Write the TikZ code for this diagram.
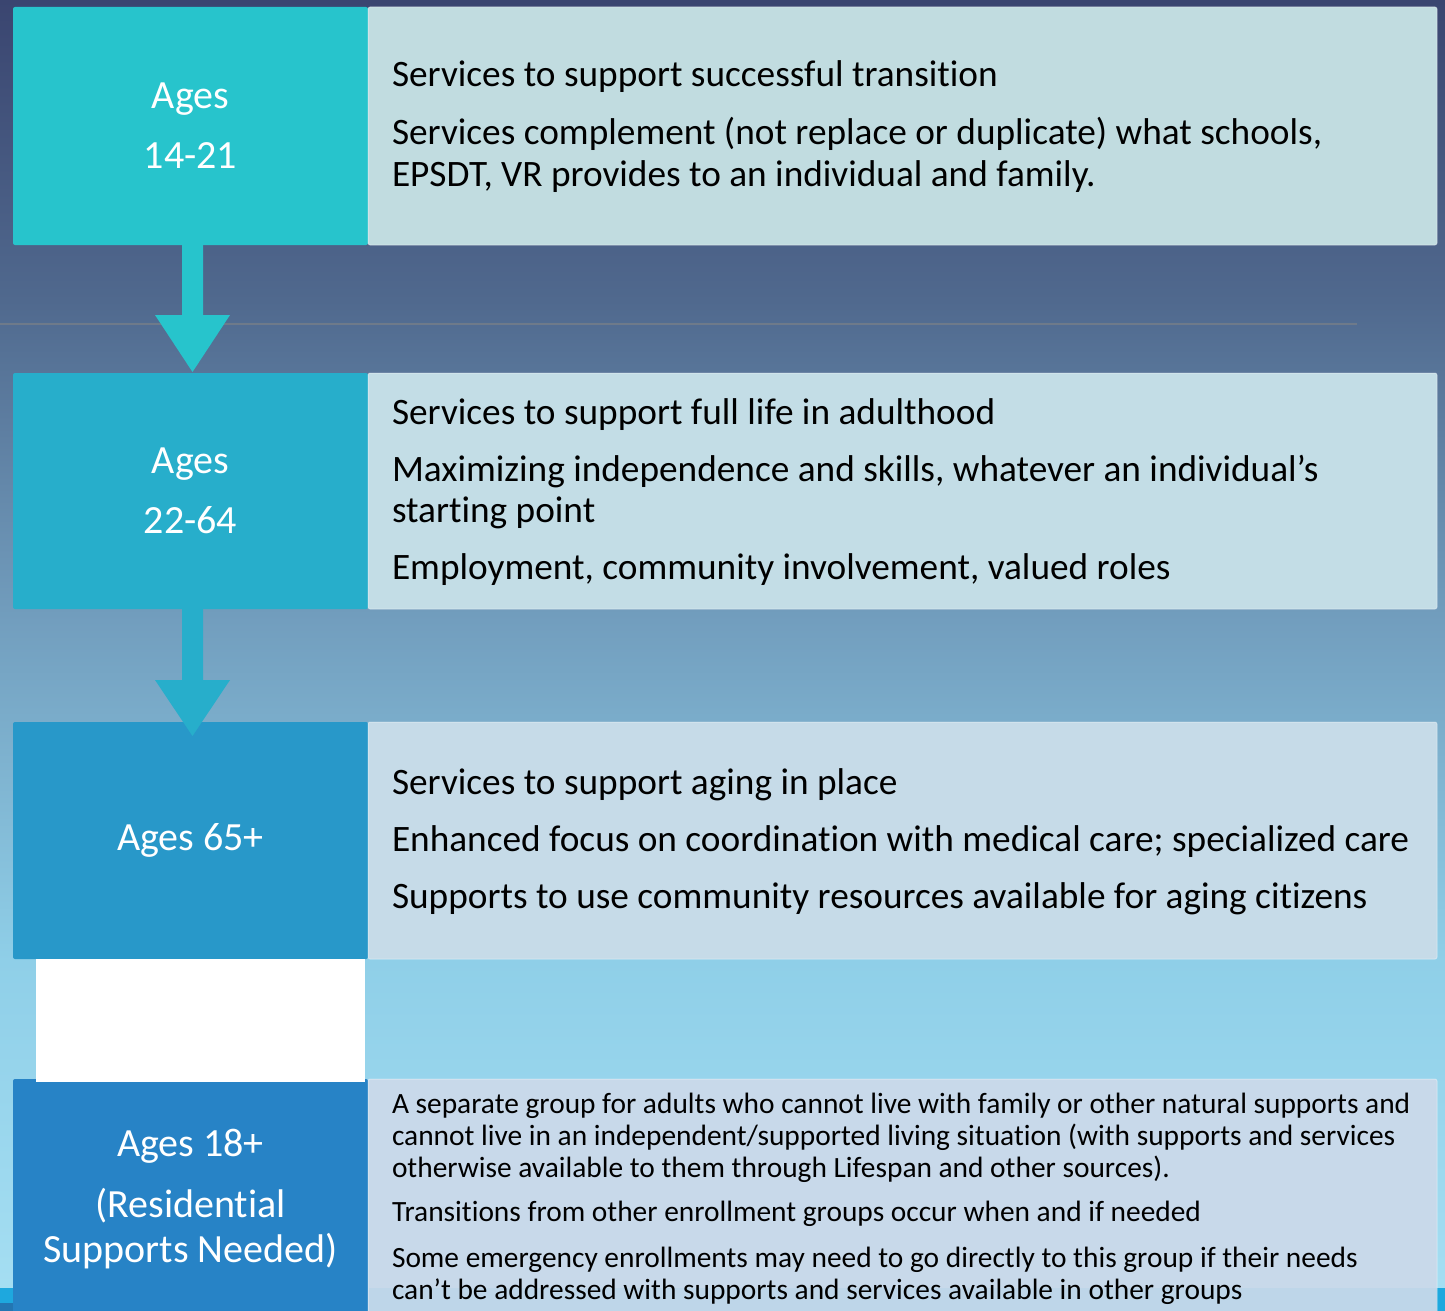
\documentclass[tikz,border=0pt]{standalone}
\usepackage{fontspec}
\setmainfont{Carlito}[Ligatures={NoCommon,NoRare}]
\usetikzlibrary{calc}
\definecolor{bgA}{HTML}{3A4570}
\definecolor{bgB}{HTML}{50698E}
\definecolor{bgC}{HTML}{729EBE}
\definecolor{bgD}{HTML}{8FCFE8}
\definecolor{bgE}{HTML}{A6DFF3}
\definecolor{lone}{HTML}{27C4CC}
\definecolor{ltwo}{HTML}{27AECB}
\definecolor{lthree}{HTML}{2898C9}
\definecolor{lfour}{HTML}{2783C6}
\definecolor{rone}{HTML}{C1DCE0}
\definecolor{rtwo}{HTML}{C3DDE6}
\definecolor{rthree}{HTML}{C6DBE8}
\definecolor{rfour}{HTML}{C8D9EA}
\definecolor{rulec}{HTML}{6E7A8A}
\definecolor{footc}{HTML}{1EA8DE}
\begin{document}
\begin{tikzpicture}[x=1pt,y=-1pt,
  lbox/.style={rectangle, rounded corners=2pt, inner sep=0pt, outer sep=0pt,
    minimum width=355, text=white, align=center,
    font=\fontsize{40}{60}\selectfont},
  rbox/.style={rectangle, rounded corners=2pt, inner sep=0pt, outer sep=0pt,
    minimum width=1069, draw=white, draw opacity=0.35, line width=1pt},
  rtxt/.style={anchor=base west, inner sep=0pt, outer sep=0pt, text=black,
    font=\fontsize{37.3}{44}\selectfont},
  stxt/.style={anchor=base west, inner sep=0pt, outer sep=0pt, text=black,
    font=\fontsize{29.4}{32}\selectfont}
]
\useasboundingbox (0,0) rectangle (1445,1311);
% background
\shade[top color=bgA,bottom color=bgB] (0,0) rectangle (1445,301);
\shade[top color=bgB,bottom color=bgC] (0,300) rectangle (1445,621);
\shade[top color=bgC,bottom color=bgD] (0,620) rectangle (1445,961);
\shade[top color=bgD,bottom color=bgE] (0,960) rectangle (1445,1311);
\fill[footc] (0,1288) rectangle (1445,1311);
\fill[lfour!90!black] (0,1303) rectangle (13,1311);
% rule
\draw[rulec, line width=2pt] (0,324) -- (1357,324);

% blocks
\node[lbox, fill=lone, minimum height=238] (l1) at (190.5,126) {Ages\\14-21};
\node[rbox, fill=rone, minimum height=238] (r1) at (902.5,126) {};
\node[lbox, fill=ltwo, minimum height=236] (l2) at (190.5,491) {Ages\\22-64};
\node[rbox, fill=rtwo, minimum height=236] (r2) at (902.5,491) {};
\node[lbox, fill=lthree, minimum height=237] (l3) at (190.5,840.5) {Ages 65+};
\node[rbox, fill=rthree, minimum height=237] (r3) at (902.5,840.5) {};

% block arrows
\fill[lone] ($(l1.south)+(-8.5,0)$) -- ($(l1.south)+(12.5,0)$) -- ($(l1.south)+(12.5,70)$)
  -- ($(l1.south)+(39.5,70)$) -- ($(l2.north)+(2,-1)$) -- ($(l1.south)+(-35.5,70)$)
  -- ($(l1.south)+(-8.5,70)$) -- cycle;
\fill[ltwo] ($(l2.south)+(-8.5,0)$) -- ($(l2.south)+(12.5,0)$) -- ($(l2.south)+(12.5,71)$)
  -- ($(l2.south)+(39.5,71)$) -- ($(l3.north)+(2,14)$) -- ($(l2.south)+(-35.5,71)$)
  -- ($(l2.south)+(-8.5,71)$) -- cycle;
\fill[lthree] ($(l3.south)+(-8.5,0)$) -- ($(l3.south)+(12.5,0)$) -- ($(l3.south)+(12.5,71)$)
  -- ($(l3.south)+(39.5,71)$) -- ($(l3.south)+(2,127)$) -- ($(l3.south)+(-35.5,71)$)
  -- ($(l3.south)+(-8.5,71)$) -- cycle;

\node[lbox, fill=lfour, minimum height=240, font=\fontsize{40}{45}\selectfont] (l4) at (190.5,1199)
  {Ages 18+\\[16pt](Residential\\Supports Needed)};
\node[rbox, fill=rfour, minimum height=240] (r4) at (902.5,1199) {};
\fill[rfour!94!footc] (369,1288) rectangle (1436.5,1311);
% white cover
\fill[white] (36,959) rectangle (365,1082);

% texts box 1
\node[rtxt] (t11) at (392,87) {Services to support successful transition};
\node[rtxt] (t12) at (392,144) {Services complement (not replace or duplicate) what schools,};
\node[rtxt] (t13) at (392,186) {EPSDT, VR provides to an individual and family.};
% box 2
\node[rtxt] (t21) at (392,424) {Services to support full life in adulthood};
\node[rtxt] (t22) at (392,481) {Maximizing independence and skills, whatever an individual’s};
\node[rtxt] (t23) at (392,522) {starting point};
\node[rtxt] (t24) at (392,579) {Employment, community involvement, valued roles};
% box 3
\node[rtxt] (t31) at (392,794) {Services to support aging in place};
\node[rtxt] (t32) at (392,851) {Enhanced focus on coordination with medical care; specialized care};
\node[rtxt] (t33) at (392,908) {Supports to use community resources available for aging citizens};
% box 4
\node[stxt] (t41) at (392,1113) {A separate group for adults who cannot live with family or other natural supports and};
\node[stxt] (t42) at (392,1145) {cannot live in an independent/supported living situation (with supports and services};
\node[stxt] (t43) at (392,1177) {otherwise available to them through Lifespan and other sources).};
\node[stxt] (t44) at (392,1221) {Transitions from other enrollment groups occur when and if needed};
\node[stxt] (t45) at (392,1267) {Some emergency enrollments may need to go directly to this group if their needs};
\node[stxt] (t46) at (392,1299) {can’t be addressed with supports and services available in other groups};
\end{tikzpicture}
\end{document}
